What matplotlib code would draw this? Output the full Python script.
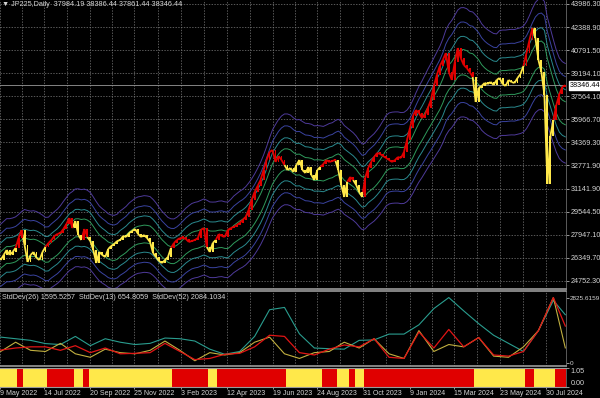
import numpy as np
import pandas as pd
import matplotlib
matplotlib.use('Agg')
import matplotlib.pyplot as plt
from matplotlib.collections import LineCollection

plt.rcParams['font.family'] = ['Liberation Sans', 'DejaVu Sans']

# JP225 daily closes, every 3rd bar (May 2022 - Aug 2024)
closes = [
    26209, 26557, 26904, 26557, 26765, 27043, 27737, 28293, 27251, 26071,
    26557, 26765, 26348, 26209, 26765, 27112, 27390, 27598, 27876, 28015,
    28085, 28363, 28710, 29126, 28431, 28918, 27946, 27598, 28363, 27807,
    27529, 26904, 26001, 26765, 26557, 26418, 26973, 27182, 27321, 27529,
    27598, 27876, 27807, 28085, 28223, 28363, 28015, 27807, 27946, 27737,
    27459, 26696, 26418, 26140, 26001, 26209, 26418, 27043, 27390, 27598,
    27737, 27737, 27668, 27459, 27529, 27598, 27737, 28293, 28431, 27112,
    26765, 27390, 27598, 28015, 27876, 27807, 28293, 28431, 28501, 28640,
    28779, 28987, 29196, 29682, 30376, 30932, 31348, 31765, 32459, 33154,
    33709, 33848, 33015, 33431, 33154, 32806, 32459, 32598, 32320, 32806,
    33154, 32459, 32251, 32668, 32112, 31765, 32459, 32668, 32876, 33154,
    33015, 33084, 33154, 32459, 31418, 30584, 31626, 31973, 31765, 31418,
    30931, 30584, 31904, 32598, 33015, 33362, 33639, 33570, 33431, 33292,
    33154, 33015, 33154, 33362, 33292, 33709, 34542, 35376, 36209, 36626,
    36417, 36070, 36278, 36764, 37320, 38292, 39056, 39681, 40098, 40584,
    39264, 38709, 39959, 40931, 40236, 39750, 39542, 39264, 38917, 37181,
    38153, 38292, 38500, 38431, 38570, 38362, 38709, 38848, 38431, 38292,
    38709, 38570, 38500, 38848, 39125, 39681, 40584, 41486, 42320, 41625,
    40098, 39264, 37667, 31487, 34820, 35931, 36973, 37724, 38223, 38346.44,
]

# StdDev indicator readings, one every 5th close sample plus the last bar
std52 = [1120, 1050, 980, 840, 800, 1150, 750, 1050, 900, 800,
         850, 1080, 1050, 950, 600, 380, 500, 1150, 2300, 2400,
         1260, 650, 620, 600, 980, 1000, 1250, 1250, 1650, 2350,
         2825, 2250, 1700, 1200, 850, 500, 1400, 2700, 2084.1034]
std26 = [560, 650, 700, 700, 550, 750, 450, 650, 400, 420,
         450, 850, 500, 150, 200, 380, 420, 700, 1200, 1150,
         450, 350, 600, 780, 700, 1050, 250, 200, 1340, 650,
         1450, 700, 1100, 350, 300, 500, 1400, 2825, 1595.5257]
std13 = [500, 900, 550, 500, 850, 400, 250, 600, 450, 400,
         550, 950, 550, 100, 450, 350, 450, 900, 1120, 400,
         200, 450, 500, 900, 650, 1050, 400, 200, 1400, 500,
         800, 700, 1100, 300, 250, 700, 1400, 2825, 654.8059]

# trend filter: date each state starts, 1 = red (up), 0 = yellow
trend_starts = [
    '2022-05-01', '2022-06-04', '2022-06-13', '2022-07-20', '2022-08-28',
    '2022-09-10', '2022-09-20', '2023-01-21', '2023-03-14', '2023-03-28',
    '2023-07-11', '2023-09-02', '2023-09-21', '2023-10-12', '2023-10-21',
    '2023-11-03', '2024-04-13', '2024-06-29', '2024-07-14', '2024-08-12',
]
trend_states = [0, 1, 0, 1, 0, 1, 0, 1, 0, 1, 0, 1, 0, 1, 0, 1, 0, 1, 0, 1]

price_ticks = [43986.30, 42388.90, 40791.50, 39194.10, 37564.10, 35966.70, 34369.30,
               32771.90, 31141.90, 29544.50, 27947.10, 26349.70, 24752.30]
last_price = 38346.44
header = '\u25bc JP225,Daily  37984.19 38386.44 37861.44 38346.44'

tick_dates = ['2022-05-09', '2022-07-14', '2022-09-20', '2022-11-25', '2023-02-03',
              '2023-04-12', '2023-06-19', '2023-08-24', '2023-10-31', '2024-01-09',
              '2024-03-15', '2024-05-23', '2024-07-30']

env_pcts = [0.022, 0.045, 0.07, 0.095]
env_colors = ['#2f9a5c', '#2a8a8f', '#3a43a0', '#4e3a9a']
std_legend = 'StdDev(26) 1595.5257  StdDev(13) 654.8059  StdDev(52) 2084.1034'

RED = '#e00000'
YELLOW = '#ffe84a'
TXT = '#d4d4d4'
GRID = '#7c7c7c'
FS = 5.2

dates = pd.date_range('2022-05-10', '2024-08-28', periods=len(closes))
close = pd.Series(closes, index=dates, dtype=float)
opens = np.r_[close.values[0], close.values[:-1]]
body_lo = np.minimum(opens, close.values)
body_h = np.maximum(np.abs(close.values - opens), 110)

idx = np.searchsorted(pd.to_datetime(trend_starts), dates, side='right') - 1
state = np.array(trend_states)[idx]
cols = np.where(state == 1, RED, YELLOW)

mid = close.rolling(8, min_periods=1).mean()
std_dates = dates[list(range(0, len(dates), 5)) + [len(dates) - 1]]

fig = plt.figure(figsize=(6, 3.98), dpi=100, facecolor='black')
ax = fig.add_axes([0, 0.2739, 0.9433, 0.7261], facecolor='black')
ax_s = fig.add_axes([0, 0.0804, 0.9433, 0.1884], facecolor='black')
ax_h = fig.add_axes([0, 0.0276, 0.9433, 0.0478], facecolor='black')

xmin, xmax = pd.Timestamp('2022-05-09'), pd.Timestamp('2024-08-29')
tds = pd.to_datetime(tick_dates)
grid_x = list(tds) + [a + (b - a) / 2 for a, b in zip(tds[:-1], tds[1:])] + [tds[-1] + (tds[-1] - tds[-2]) / 2]

for a in (ax, ax_s, ax_h):
    a.set_xlim(xmin, xmax)
    for g in grid_x:
        a.axvline(g, color=GRID, lw=0.5, ls=(0, (2, 2)), zorder=0)
    for s in a.spines.values():
        s.set_color('#9a9a9a')
    a.spines['left'].set_visible(False)
    a.spines['right'].set_color('#6a6a6a')
    a.spines['right'].set_linewidth(0.6)
    a.yaxis.tick_right()
    a.tick_params(axis='y', colors=TXT, labelsize=FS, length=2, pad=1.5, width=0.5)

# main price panel
for p in price_ticks:
    ax.axhline(p, color=GRID, lw=0.5, ls=(0, (2, 2)), zorder=0)
for pct, c in zip(env_pcts, env_colors):
    ax.plot(dates, mid * (1 + pct), color=c, lw=0.7, zorder=1)
    ax.plot(dates, mid * (1 - pct), color=c, lw=0.7, zorder=1)
xnum = matplotlib.dates.date2num(dates)
pts = np.column_stack([xnum, close.values])
ax.add_collection(LineCollection(np.stack([pts[:-1], pts[1:]], axis=1), colors=cols[1:],
                                 linewidths=1.3, zorder=3))
ax.bar(dates, body_h, bottom=body_lo, width=2.8, color=cols, linewidth=0, zorder=4)
ax.axhline(last_price, color='#9a9a9a', lw=0.6, zorder=2)
ax.set_ylim(24196, 44264)
ax.set_yticks(price_ticks)
ax.set_yticklabels([f'{p:.2f}' for p in price_ticks])
ax.set_xticks([])
ax.spines['top'].set_visible(False)
ax.spines['bottom'].set_linewidth(1.2)
ax.annotate(f'{last_price:.2f}', xy=(1.0, last_price), xycoords=('axes fraction', 'data'),
            xytext=(3, 0), textcoords='offset points', ha='left', va='center',
            fontsize=FS, color='black', annotation_clip=False,
            bbox=dict(boxstyle='square,pad=0.15', fc='white', ec='white'))
ax.text(0.004, 0.995, header, transform=ax.transAxes, ha='left', va='top', fontsize=FS, color=TXT)

# std dev panel
ax_s.plot(std_dates, std52, color='#2a9d8f', lw=0.8)
ax_s.plot(std_dates, std13, color='#c2b040', lw=0.8)
ax_s.plot(std_dates, std26, color='#e01515', lw=0.9)
ax_s.set_ylim(-126, 3107)
ax_s.set_yticks([2825.6159, 0])
ax_s.set_yticklabels(['2825.6159', '0'])
ax_s.tick_params(axis='y', labelsize=4.6, pad=1.0)
ax_s.set_xticks([])
ax_s.spines['top'].set_linewidth(1.2)
ax_s.spines['bottom'].set_linewidth(1.2)
ax_s.text(0.004, 0.96, std_legend, transform=ax_s.transAxes, ha='left', va='top',
          fontsize=FS, color=TXT)

# trend histogram
ax_h.bar(dates, np.ones(len(dates)), width=4.45, color=cols, linewidth=0)
ax_h.set_ylim(0, 1.03)
ax_h.set_yticks([1.03, 0])
ax_h.set_yticklabels(['1.05', '0.00'])
for lab, va in zip(ax_h.get_yticklabels(), ['top', 'bottom']):
    lab.set_va(va)
ax_h.set_xticks(tds)
ax_h.set_xticklabels([f'{d.day} {d:%b %Y}' for d in tds], ha='left')
ax_h.tick_params(axis='x', colors=TXT, labelsize=5.0, length=1.5, pad=0.3, width=0.5)

fig.savefig('out.png', dpi=100, facecolor='black')
